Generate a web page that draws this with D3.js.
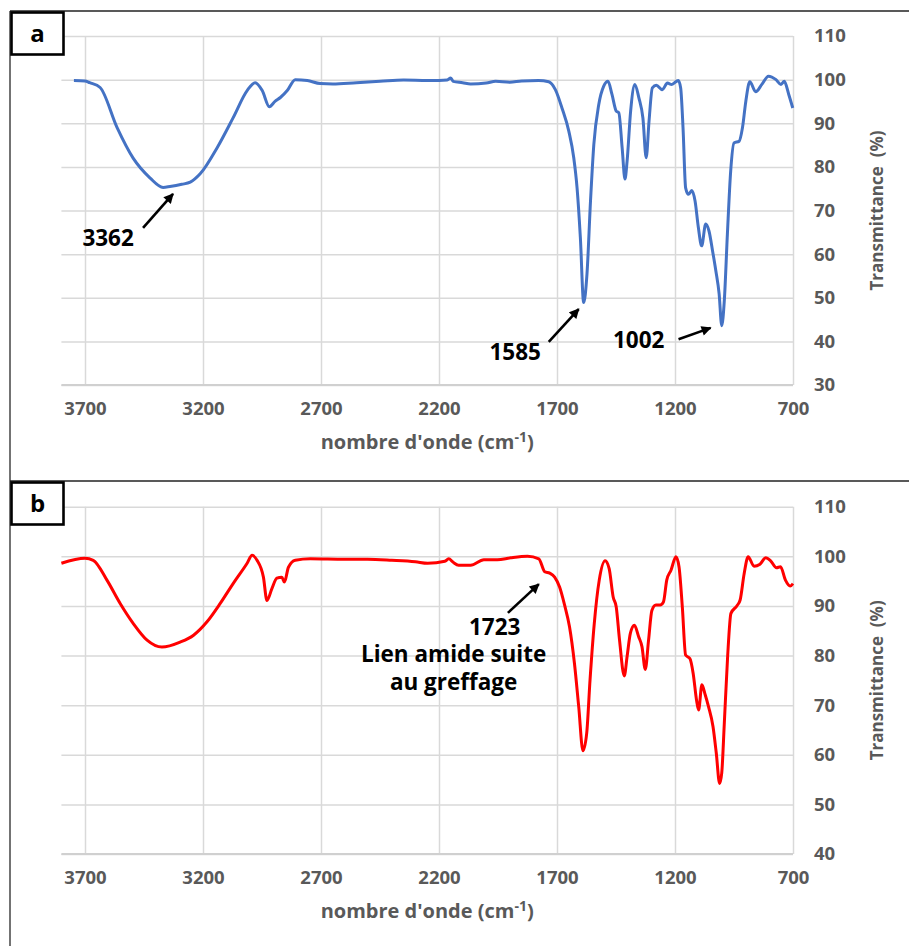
<!DOCTYPE html>
<html>
<head>
<meta charset="utf-8">
<script src="https://cdn.jsdelivr.net/npm/d3@7"></script>
<style>
body{margin:0;background:#fff;}
svg{display:block;font-family:"Open Sans",sans-serif;}
</style>
</head>
<body>
<div id="chart"></div>
<script>

//Axis ticks
var xTicks = [3700, 3200, 2700, 2200, 1700, 1200, 700];
var yTicksA = [30, 40, 50, 60, 70, 80, 90, 100, 110];
var yTicksB = [40, 50, 60, 70, 80, 90, 100, 110];

//Spectrum a (wavenumber, transmittance %)
var waveA = [3747,3700,3680,3636,3564,3496,3425,3369,3340,3290,3254,3212,3140,3072,3013,2979,2949,2919,2895,2872,2843,2809,2758,2703,2650,2550,2450,2350,2250,2200,2165,2150,2140,2100,2066,2000,1960,1900,1850,1778,1735,1707,1679,1650,1629,1615,1601,1587,1573,1558,1544,1523,1502,1484,1467,1449,1438,1424,1412,1403,1388,1370,1353,1336,1322,1310,1296,1279,1254,1232,1214,1186,1176,1166,1155,1143,1129,1115,1101,1087,1070,1056,1041,1027,1013,1002,991,978,964,950,928,914,900,883,858,832,804,772,751,737,718,701];
var transA = [99.8,99.7,99.3,98.2,89.0,82.0,77.5,75.3,75.5,76.0,76.5,78.4,84.4,91.3,97.5,99.3,97.5,93.8,95.0,95.9,97.5,100.0,99.8,99.1,99.0,99.3,99.6,99.9,99.8,99.8,99.9,100.4,99.6,99.3,99.0,99.2,99.6,99.4,99.7,99.8,99.5,97.7,93.5,88.2,82.1,75.2,63.8,48.9,55.4,72.2,85.1,94.3,98.5,99.6,96.6,92.8,92.4,84.4,77.2,81.3,92.8,98.9,95.8,91.2,82.1,90.5,98.1,98.7,97.7,99.2,98.9,99.8,98.1,89.0,75.2,73.7,74.6,72.2,66.1,61.9,66.9,65.3,60.8,56.2,50.9,43.6,49.4,64.6,79.1,85.5,85.9,89.0,95.0,99.5,97.2,98.9,100.8,100.0,98.9,99.6,96.6,93.5];

//Spectrum b (wavenumber, transmittance %)
var waveB = [3800,3700,3665,3607,3551,3496,3437,3374,3297,3240,3183,3127,3071,3013,2992,2971,2944,2929,2908,2887,2866,2855,2838,2809,2745,2600,2503,2400,2300,2248,2175,2159,2140,2117,2066,2010,1953,1896,1825,1777,1752,1731,1710,1689,1668,1647,1626,1608,1590,1574,1560,1542,1521,1496,1479,1462,1449,1435,1415,1403,1389,1372,1354,1340,1326,1312,1298,1281,1263,1249,1235,1217,1196,1183,1169,1155,1137,1123,1109,1100,1086,1072,1058,1039,1025,1011,1002,991,977,963,938,924,907,890,865,840,816,795,770,753,732,712,700];
var transB = [98.6,99.6,99.2,95.2,90.5,86.5,83.1,81.7,82.7,84.1,86.8,90.5,94.6,98.6,100.2,99.2,95.8,91.1,93.5,95.6,95.8,94.8,97.8,99.2,99.5,99.4,99.4,99.2,98.9,98.6,99.0,99.5,98.8,98.2,98.2,99.3,99.3,99.7,100.0,99.5,96.9,96.6,95.8,93.8,90.2,85.8,78.4,69.7,60.8,64.4,75.1,86.5,95.2,99.1,97.5,91.8,89.8,83.1,75.9,79.8,84.5,86.1,83.8,81.8,77.2,83.1,89.1,90.2,90.2,90.8,95.2,97.2,99.9,97.9,89.8,80.1,79.4,76.4,71.1,69.0,74.1,72.1,69.7,65.7,60.3,54.2,56.3,66.4,79.8,88.5,90.0,91.2,96.5,99.9,98.0,98.4,99.7,99.1,97.7,97.9,95.2,94.0,94.5];

//Peak labels (anchored in data units)
var annotationsA = [
    {lines:["3362"], tip:[3327,73.8], tail:[3454,66.0], label:[3602,61.9]},
    {lines:["1585"], tip:[1608,47.4], tail:[1735,39.9], label:[1877,35.7]},
    {lines:["1002"], tip:[1049,43.1], tail:[1185,40.5], label:[1354,38.5]}
];
var annotationsB = [
    {lines:["1723"], tip:[1777,94.4], tail:[1908,88.6], label:[1964,84.1]},
    {lines:["Lien amide suite","au greffage"], label:[2138,78.7]}
];


var chart = {

  //**************************************************************************
  //** init
  //**************************************************************************
    init: function(parent){
        var svg = d3.select(parent).append("svg")
            .attr("width", 909)
            .attr("height", 946);

        svg.append("defs").append("marker")
            .attr("id", "arrow")
            .attr("viewBox", "0 0 10 10")
            .attr("refX", 9)
            .attr("refY", 5)
            .attr("markerUnits", "userSpaceOnUse")
            .attr("markerWidth", 12)
            .attr("markerHeight", 10)
            .attr("orient", "auto")
            .append("path")
            .attr("d", "M0,0L10,5L0,10z")
            .attr("fill", "#000");

        return svg;
    },


  //**************************************************************************
  //** drawFrame
  //**************************************************************************
    drawFrame: function(svg){
        svg.append("line")
            .attr("x1", 10).attr("x2", 10)
            .attr("y1", 11).attr("y2", 946)
            .attr("stroke", "#444").attr("stroke-width", 1.5);
        [11, 481].forEach(function(y){
            svg.append("line")
                .attr("x1", 10).attr("x2", 909)
                .attr("y1", y).attr("y2", y)
                .attr("stroke", "#222").attr("stroke-width", 1.3);
        });
    },


  //**************************************************************************
  //** drawPanel
  //**************************************************************************
    drawPanel: function(svg, cfg){

        var x = d3.scaleLinear().domain([3800, 700]).range([61.4, 793]);
        var y = d3.scaleLinear().domain(cfg.yDomain).range([cfg.bottom, cfg.top]);
        var width = 793 - 61.4;
        var height = cfg.bottom - cfg.top;

        var g = svg.append("g");

        //Horizontal gridlines
        g.append("g")
            .attr("class", "grid")
            .attr("transform", "translate(61.4,0)")
            .call(d3.axisLeft(y).tickValues(cfg.yTicks).tickSize(-width).tickFormat(""));

        //Vertical gridlines
        g.append("g")
            .attr("class", "grid")
            .attr("transform", "translate(0," + cfg.bottom + ")")
            .call(d3.axisBottom(x).tickValues(xTicks).tickSize(-height).tickFormat(""));

        g.selectAll(".grid .domain").remove();
        g.selectAll(".grid line")
            .attr("stroke", "#d9d9d9")
            .attr("stroke-width", 1.5);

        //Bottom line of the plot
        g.append("line")
            .attr("x1", 61.4).attr("x2", 793)
            .attr("y1", cfg.bottom).attr("y2", cfg.bottom)
            .attr("stroke", "#d0d0d0").attr("stroke-width", 2);

        //X axis labels
        var xAxis = g.append("g")
            .attr("transform", "translate(0," + cfg.bottom + ")")
            .call(d3.axisBottom(x).tickValues(xTicks).tickSize(0).tickPadding(17).tickFormat(d3.format("d")));
        xAxis.select(".domain").remove();

        //Y axis labels (right side)
        var yAxis = g.append("g")
            .attr("transform", "translate(793,0)")
            .call(d3.axisRight(y).tickValues(cfg.yTicks).tickSize(0).tickPadding(21));
        yAxis.select(".domain").remove();

        g.selectAll(".tick text")
            .attr("font-family", "Open Sans")
            .attr("font-size", 18.5)
            .attr("font-weight", "bold")
            .attr("fill", "#595959");

        //Axis titles
        var xt = g.append("text")
            .attr("x", (61.4 + 793) / 2)
            .attr("y", cfg.bottom + 64)
            .attr("text-anchor", "middle")
            .attr("font-size", 20)
            .attr("font-weight", "bold")
            .attr("fill", "#595959");
        xt.append("tspan").text("nombre d'onde (cm");
        xt.append("tspan").attr("dy", -7).attr("font-size", 14).text("-1");
        xt.append("tspan").attr("dy", 7).text(")");

        g.append("text")
            .attr("transform", "translate(876," + ((cfg.top + cfg.bottom) / 2) + ")rotate(-90)")
            .attr("text-anchor", "middle")
            .attr("dominant-baseline", "central")
            .attr("font-size", 17)
            .attr("font-weight", "bold")
            .attr("fill", "#595959")
            .attr("xml:space", "preserve")
            .text("Transmittance  (%)");

        //Spectrum
        var line = d3.line()
            .x(function(d){ return x(d[0]); })
            .y(function(d){ return y(d[1]); })
            .curve(d3.curveMonotoneX);

        g.append("path")
            .datum(d3.zip(cfg.wave, cfg.trans))
            .attr("d", line)
            .attr("fill", "none")
            .attr("stroke", cfg.color)
            .attr("stroke-width", 3)
            .attr("stroke-linejoin", "round");

        //Peak labels
        cfg.annotations.forEach(function(a){
            if (a.tip){
                g.append("line")
                    .attr("x1", x(a.tail[0])).attr("y1", y(a.tail[1]))
                    .attr("x2", x(a.tip[0])).attr("y2", y(a.tip[1]))
                    .attr("stroke", "#000")
                    .attr("stroke-width", 2.6)
                    .attr("marker-end", "url(#arrow)");
            }
            a.lines.forEach(function(s, i){
                g.append("text")
                    .attr("x", x(a.label[0]))
                    .attr("y", y(a.label[1]) + i * 28)
                    .attr("text-anchor", "middle")
                    .attr("font-size", 22.5)
                    .attr("font-weight", "bold")
                    .attr("fill", "#000")
                    .text(s);
            });
        });

        //Panel letter
        g.append("rect")
            .attr("x", 11.5).attr("y", cfg.boxTop + 1.5)
            .attr("width", 52).attr("height", 42)
            .attr("fill", "#fff")
            .attr("stroke", "#000")
            .attr("stroke-width", 2.6);
        g.append("text")
            .attr("x", 37.5).attr("y", cfg.boxTop + 31)
            .attr("text-anchor", "middle")
            .attr("font-size", 24)
            .attr("font-weight", "bold")
            .attr("fill", "#000")
            .text(cfg.letter);
    }

};


var svg = chart.init(document.getElementById("chart"));
chart.drawFrame(svg);

chart.drawPanel(svg, {
    letter: "a", boxTop: 11,
    top: 36, bottom: 385,
    yDomain: [30, 110], yTicks: yTicksA,
    wave: waveA, trans: transA,
    color: "#4472C4",
    annotations: annotationsA
});

chart.drawPanel(svg, {
    letter: "b", boxTop: 481,
    top: 506.7, bottom: 854,
    yDomain: [40, 110], yTicks: yTicksB,
    wave: waveB, trans: transB,
    color: "#FF0000",
    annotations: annotationsB
});

</script>
</body>
</html>
